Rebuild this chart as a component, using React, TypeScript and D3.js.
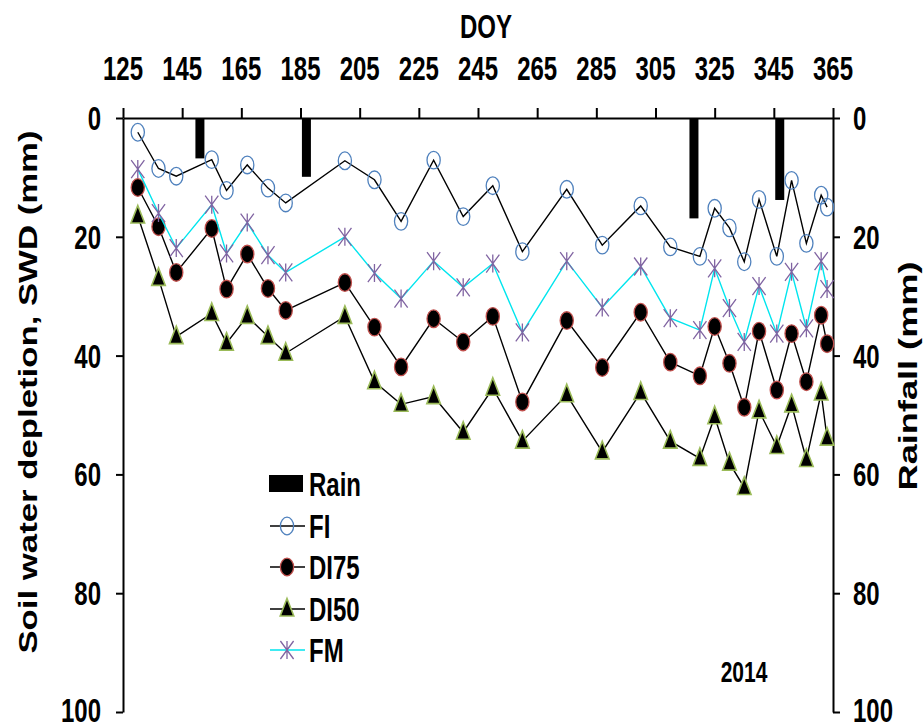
import React, { useEffect, useRef } from "react";
import * as d3 from "d3";

// day of year of each soil water reading
const doy = [130, 137, 143, 155, 160, 167, 174, 180, 200, 210, 219, 230, 240, 250, 260, 275, 287, 300, 310, 320, 325, 330, 335, 340, 346, 351, 356, 361, 363];

const fi = [2.4, 8.5, 9.8, 7.0, 12.2, 7.9, 11.8, 14.3, 7.2, 10.4, 17.4, 7.1, 16.6, 11.4, 22.5, 12.0, 21.4, 14.8, 21.7, 23.3, 15.2, 18.5, 24.2, 13.7, 23.3, 10.5, 21.1, 13.0, 15.0];
const di75 = [11.7, 18.3, 26.0, 18.6, 28.8, 22.9, 28.7, 32.4, 27.7, 35.2, 41.9, 33.8, 37.7, 33.4, 47.8, 34.1, 42.0, 32.7, 41.1, 43.4, 35.1, 41.3, 48.7, 35.9, 45.8, 36.3, 44.4, 33.2, 38.0];
const di50 = [16.5, 27.0, 36.8, 32.9, 37.9, 33.4, 36.8, 39.6, 33.4, 44.4, 48.2, 46.9, 52.9, 45.5, 54.4, 46.6, 56.2, 46.2, 54.4, 57.3, 50.3, 58.1, 62.2, 49.3, 55.3, 48.3, 57.5, 46.3, 53.9];
const fm = [8.6, 16.0, 21.9, 14.6, 22.8, 17.6, 23.1, 26.0, 20.0, 26.1, 30.4, 24.1, 28.5, 24.5, 36.1, 24.1, 31.9, 25.0, 33.7, 35.7, 25.3, 32.0, 37.7, 28.3, 36.3, 25.9, 35.4, 24.1, 28.8];

const rainDays = [151, 187, 318, 347];
const rainMm = [6.8, 9.9, 16.9, 13.8];

const doyTicks = [125, 145, 165, 185, 205, 225, 245, 265, 285, 305, 325, 345, 365];
const yTicks = [0, 20, 40, 60, 80, 100];

const FONT = "'Liberation Sans', Arial, sans-serif";
const SY = 1.39; // the figure text is stretched vertically

export default function App() {
  const ref = useRef<SVGSVGElement>(null);

  useEffect(() => {
    const node = ref.current;
    if (!node) return;
    const svg = d3.select(node);
    svg.selectAll("*").remove();

    const x = d3.scaleLinear().domain([125, 365]).range([123, 833]);
    const y = d3.scaleLinear().domain([0, 100]).range([118, 712]);

    const txt = (px: number, py: number, s: string, anchor: string, size = 24, rot = false) =>
      svg
        .append("text")
        .attr("transform", `translate(${px},${py}) scale(1,${SY})${rot ? " rotate(-90)" : ""}`)
        .attr("text-anchor", anchor)
        .attr("font-family", FONT)
        .attr("font-weight", "bold")
        .attr("font-size", size)
        .attr("fill", "#000")
        .text(s);

    // rain bars hang from the top axis
    svg
      .append("g")
      .selectAll("rect")
      .data(rainDays)
      .enter()
      .append("rect")
      .attr("x", (d) => x(d) - 4.5)
      .attr("y", y(0))
      .attr("width", 9)
      .attr("height", (_, i) => y(rainMm[i]) - y(0))
      .attr("fill", "#000");

    // axes
    const axStyle = (g: any) => {
      g.select(".domain").attr("stroke-width", 2);
      g.selectAll(".tick line").attr("stroke-width", 2);
      g.selectAll(".tick text").remove();
    };
    svg
      .append("g")
      .attr("transform", `translate(0,${y(0)})`)
      .call(d3.axisTop(x).tickValues(doyTicks).tickSize(10).tickSizeOuter(0))
      .call(axStyle);
    svg
      .append("g")
      .attr("transform", `translate(${x(125)},0)`)
      .call(d3.axisLeft(y).tickValues(yTicks).tickSize(7).tickSizeOuter(0))
      .call(axStyle);
    svg
      .append("g")
      .attr("transform", `translate(${x(365)},0)`)
      .call(d3.axisRight(y).tickValues(yTicks).tickSize(7).tickSizeOuter(0))
      .call(axStyle);

    doyTicks.forEach((t) => txt(x(t), 80, String(t), "middle"));
    yTicks.forEach((t) => {
      const by = Math.min(y(t) + 12, 722); // bottom label sits at the page edge
      txt(101, by, String(t), "end");
      txt(853, by, String(t), "start");
    });
    txt(486, 38, "DOY", "middle");
    txt(37, 392, "Soil water depletion, SWD (mm)", "middle", 25, true);
    txt(917, 376, "Rainfall (mm)", "middle", 26, true);
    txt(744, 682, "2014", "middle", 21);

    const line = d3
      .line<number>()
      .x((_, i) => x(doy[i]))
      .y((d) => y(d));

    const circle = (g: any, cx: number, cy: number, fill: string, stroke: string) =>
      g.append("ellipse").attr("cx", cx).attr("cy", cy).attr("rx", 6.6).attr("ry", 8.8)
        .attr("fill", fill).attr("stroke", stroke).attr("stroke-width", 1.3);
    const tri = (g: any, cx: number, cy: number) =>
      g.append("path")
        .attr("d", `M${cx},${cy - 10.5}L${cx + 6.8},${cy + 7}L${cx - 6.8},${cy + 7}Z`)
        .attr("fill", "#000").attr("stroke", "#9bbb59").attr("stroke-width", 1.6);
    const star = (g: any, cx: number, cy: number) =>
      g.append("path")
        .attr("d", `M${cx},${cy - 9}V${cy + 9}M${cx - 6.6},${cy - 9}L${cx + 6.6},${cy + 9}M${cx + 6.6},${cy - 9}L${cx - 6.6},${cy + 9}`)
        .attr("fill", "none").attr("stroke", "#8064a2").attr("stroke-width", 1.3);

    const series = [
      { vals: fi, col: "#000", mark: (g: any, cx: number, cy: number) => circle(g, cx, cy, "none", "#4f81bd") },
      { vals: di75, col: "#000", mark: (g: any, cx: number, cy: number) => circle(g, cx, cy, "#000", "#c0504d") },
      { vals: di50, col: "#000", mark: tri },
      { vals: fm, col: "#00e5ee", mark: star },
    ];

    series.forEach((s) => {
      const g = svg.append("g");
      g.append("path").attr("d", line(s.vals)).attr("fill", "none").attr("stroke", s.col).attr("stroke-width", 1.4);
      s.vals.forEach((v, i) => s.mark(g, x(doy[i]), y(v)));
    });

    // legend
    const lg = svg.append("g");
    lg.append("rect").attr("x", 269).attr("y", 475).attr("width", 34).attr("height", 17).attr("fill", "#000");
    txt(309, 496, "Rain", "start");
    const rows = [
      { name: "FI", ry: 526 },
      { name: "DI75", ry: 567 },
      { name: "DI50", ry: 609 },
      { name: "FM", ry: 650 },
    ];
    rows.forEach((r, i) => {
      lg.append("line").attr("x1", 270).attr("x2", 305).attr("y1", r.ry).attr("y2", r.ry)
        .attr("stroke", series[i].col).attr("stroke-width", 1.4);
      series[i].mark(lg, 287, r.ry);
      txt(309, r.ry + 12, r.name, "start");
    });
  }, []);

  return <svg ref={ref} width={923} height={728} style={{ position: "absolute", left: 0, top: 0, background: "#fff" }} />;
}
